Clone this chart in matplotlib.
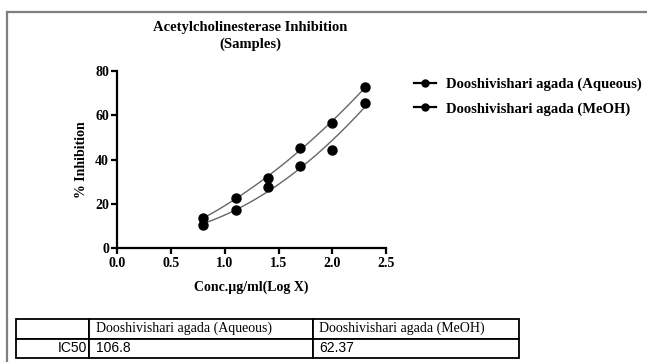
import matplotlib.pyplot as plt
import numpy as np
from matplotlib.lines import Line2D

# log concentration values
log_conc = [0.8, 1.1, 1.4, 1.7, 2.0, 2.3]

aqueous = [10.5, 17.3, 27.5, 37.1, 44.4, 65.7]
meoh = [13.5, 22.6, 31.9, 45.4, 56.4, 72.6]

series_names = ["Dooshivishari agada (Aqueous)", "Dooshivishari agada (MeOH)"]
ic50_values = ["106.8", "62.37"]

serif = "Liberation Serif"

fig = plt.figure(figsize=(6.47, 3.62), dpi=100)

# outer frame (top and left edges only)
fig.add_artist(Line2D([7 / 647, 7 / 647], [0, 1 - 12 / 362],
                      transform=fig.transFigure, color="#7f7f7f", linewidth=1.6))
fig.add_artist(Line2D([7 / 647, 1], [1 - 12 / 362, 1 - 12 / 362],
                      transform=fig.transFigure, color="#7f7f7f", linewidth=1.6))

ax = fig.add_axes([117.3 / 647, 1 - 248.3 / 362, (386 - 117.3) / 647, (248.3 - 71) / 362])

x = np.array(log_conc)
xs = np.linspace(min(log_conc), max(log_conc), 100)

handles = []
for vals, name in zip([aqueous, meoh], series_names):
    coef = np.polyfit(x, vals, 2)
    fit = np.poly1d(coef)
    ax.plot(xs, fit(xs), color="#666666", linewidth=1.0, zorder=2)
    ax.plot(x, vals, "o", color="black", markersize=6.5, zorder=3)
    handles.append(Line2D([], [], color="black", marker="o", markersize=5,
                          linewidth=1.6, label=name))

ax.set_xlim(0, 2.5)
ax.set_ylim(0, 80)
ax.set_xticks([0.0, 0.5, 1.0, 1.5, 2.0, 2.5])
ax.set_yticks([0, 20, 40, 60, 80])
ax.set_xticklabels(["0.0", "0.5", "1.0", "1.5", "2.0", "2.5"])

for side in ["top", "right"]:
    ax.spines[side].set_visible(False)
for side in ["left", "bottom"]:
    ax.spines[side].set_linewidth(1.6)

ax.tick_params(direction="out", length=4, width=1.6, pad=2)
for lbl in ax.get_xticklabels() + ax.get_yticklabels():
    lbl.set_fontfamily(serif)
    lbl.set_fontweight("bold")
    lbl.set_fontsize(10)

ax.set_xlabel("Conc.µg/ml(Log X)", fontfamily=serif, fontweight="bold",
              fontsize=10, labelpad=8)
ax.set_ylabel("% Inhibition", fontfamily=serif, fontweight="bold",
              fontsize=10, labelpad=5)

fig.text(250 / 647, 1 - 28 / 362, "Acetylcholinesterase Inhibition",
         ha="center", va="center", fontfamily=serif, fontweight="bold", fontsize=10.5)
fig.text(250 / 647, 1 - 44 / 362, "(Samples)",
         ha="center", va="center", fontfamily=serif, fontweight="bold", fontsize=10.5)

fig.legend(handles=handles, loc="upper left",
           bbox_to_anchor=(408 / 647, 1 - 72 / 362),
           frameon=False, handlelength=1.5, handletextpad=0.7,
           labelspacing=0.75, borderaxespad=0,
           prop={"family": serif, "weight": "bold", "size": 10.5})

# IC50 table
tax = fig.add_axes([16 / 647, 1 - 358 / 362, (519 - 16) / 647, (358 - 319) / 362])
tax.axis("off")
cells = [["", series_names[0], series_names[1]],
         ["IC50", ic50_values[0], ic50_values[1]]]
widths = [73, 224, 206]
total = sum(widths)
tbl = tax.table(cellText=cells, colWidths=[w / total for w in widths],
                bbox=[0, 0, 1, 1], cellLoc="left")
tbl.auto_set_font_size(False)
for (r, c), cell in tbl.get_celld().items():
    cell.set_linewidth(1.3)
    cell.set_edgecolor("black")
    txt = cell.get_text()
    if r == 0:
        txt.set_fontfamily(serif)
        txt.set_fontsize(10)
    else:
        txt.set_fontfamily("Liberation Sans")
        txt.set_fontsize(10)
    if r == 1 and c == 0:
        cell.set_text_props(ha="right")
        cell._loc = "right"
    cell.PAD = 0.03

fig.savefig("out.png", dpi=100)
